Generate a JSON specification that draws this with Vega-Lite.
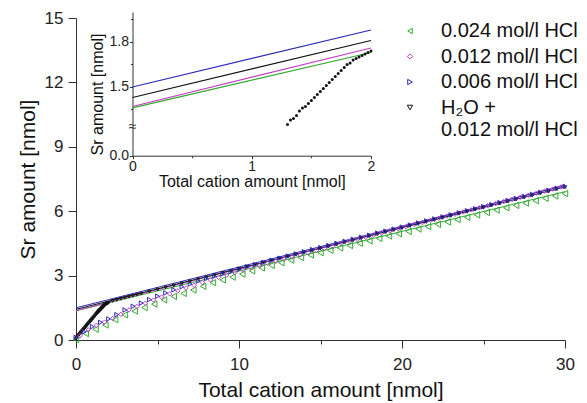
{
  "$schema": "https://vega.github.io/schema/vega-lite/v6.json",
  "width": 489,
  "height": 322,
  "autosize": {"type": "none"},
  "padding": {"left": 76, "top": 18, "right": 22, "bottom": 63},
  "background": "white",
  "config": {
    "view": {"stroke": null},
    "font": "Liberation Sans",
    "axis": {"grid": false, "labelFlush": false, "domainColor": "#333", "tickColor": "#333", "labelColor": "#222", "titleColor": "#111", "titleFontWeight": "normal", "labelFont": "Liberation Sans", "titleFont": "Liberation Sans"},
    "legend": {"labelFont": "Liberation Sans"}
  },
  "datasets": {
    "pts": [
      {"s":"H2O","x":0.00,"y":0.05},{"s":"H2O","x":0.05,"y":0.10},{"s":"H2O","x":0.10,"y":0.16},{"s":"H2O","x":0.15,"y":0.21},{"s":"H2O","x":0.20,"y":0.26},{"s":"H2O","x":0.25,"y":0.30},{"s":"H2O","x":0.30,"y":0.35},{"s":"H2O","x":0.35,"y":0.39},{"s":"H2O","x":0.40,"y":0.44},{"s":"H2O","x":0.45,"y":0.48},{"s":"H2O","x":0.50,"y":0.53},{"s":"H2O","x":0.55,"y":0.57},{"s":"H2O","x":0.60,"y":0.62},{"s":"H2O","x":0.65,"y":0.66},{"s":"H2O","x":0.70,"y":0.71},{"s":"H2O","x":0.75,"y":0.76},{"s":"H2O","x":0.80,"y":0.80},{"s":"H2O","x":0.85,"y":0.84},{"s":"H2O","x":0.90,"y":0.89},{"s":"H2O","x":0.95,"y":0.93},{"s":"H2O","x":1.00,"y":0.98},{"s":"H2O","x":1.05,"y":1.02},{"s":"H2O","x":1.10,"y":1.07},{"s":"H2O","x":1.15,"y":1.11},{"s":"H2O","x":1.20,"y":1.16},{"s":"H2O","x":1.25,"y":1.21},{"s":"H2O","x":1.30,"y":1.25},{"s":"H2O","x":1.325,"y":1.28},{"s":"H2O","x":1.35,"y":1.29},{"s":"H2O","x":1.375,"y":1.31},{"s":"H2O","x":1.40,"y":1.34},{"s":"H2O","x":1.425,"y":1.36},{"s":"H2O","x":1.45,"y":1.37},{"s":"H2O","x":1.475,"y":1.39},{"s":"H2O","x":1.50,"y":1.41},{"s":"H2O","x":1.525,"y":1.43},{"s":"H2O","x":1.55,"y":1.45},{"s":"H2O","x":1.575,"y":1.47},{"s":"H2O","x":1.60,"y":1.49},{"s":"H2O","x":1.625,"y":1.51},{"s":"H2O","x":1.65,"y":1.53},{"s":"H2O","x":1.675,"y":1.55},{"s":"H2O","x":1.70,"y":1.57},{"s":"H2O","x":1.725,"y":1.59},{"s":"H2O","x":1.75,"y":1.61},{"s":"H2O","x":1.775,"y":1.63},{"s":"H2O","x":1.80,"y":1.65},{"s":"H2O","x":1.825,"y":1.66},{"s":"H2O","x":1.85,"y":1.68},{"s":"H2O","x":1.875,"y":1.69},{"s":"H2O","x":1.90,"y":1.70},{"s":"H2O","x":1.925,"y":1.71},{"s":"H2O","x":1.95,"y":1.72},{"s":"H2O","x":1.975,"y":1.73},{"s":"H2O","x":2.00,"y":1.74},
      {"s":"H2O","x":2.25,"y":1.82},{"s":"H2O","x":2.5,"y":1.87},{"s":"H2O","x":2.75,"y":1.92},{"s":"H2O","x":3.0,"y":1.97},{"s":"H2O","x":3.25,"y":2.02},{"s":"H2O","x":3.5,"y":2.06},{"s":"H2O","x":3.75,"y":2.11},{"s":"H2O","x":4.0,"y":2.16},{"s":"H2O","x":4.5,"y":2.26},{"s":"H2O","x":5.0,"y":2.35},{"s":"H2O","x":5.5,"y":2.45},{"s":"H2O","x":6.0,"y":2.54},{"s":"H2O","x":6.5,"y":2.64},{"s":"H2O","x":7.0,"y":2.73},{"s":"H2O","x":7.5,"y":2.83},{"s":"H2O","x":8.0,"y":2.92},{"s":"H2O","x":8.5,"y":3.02},{"s":"H2O","x":9.0,"y":3.12},{"s":"H2O","x":9.5,"y":3.21},{"s":"H2O","x":10.0,"y":3.31},{"s":"H2O","x":10.5,"y":3.41},{"s":"H2O","x":11.0,"y":3.50},{"s":"H2O","x":11.5,"y":3.60},{"s":"H2O","x":12.0,"y":3.69},{"s":"H2O","x":12.5,"y":3.79},{"s":"H2O","x":13.0,"y":3.88},{"s":"H2O","x":13.5,"y":3.98},{"s":"H2O","x":14.0,"y":4.07},{"s":"H2O","x":14.5,"y":4.17},{"s":"H2O","x":15.0,"y":4.26},{"s":"H2O","x":15.5,"y":4.36},{"s":"H2O","x":16.0,"y":4.45},{"s":"H2O","x":16.5,"y":4.55},{"s":"H2O","x":17.0,"y":4.64},{"s":"H2O","x":17.5,"y":4.74},{"s":"H2O","x":18.0,"y":4.83},{"s":"H2O","x":18.5,"y":4.93},{"s":"H2O","x":19.0,"y":5.02},{"s":"H2O","x":19.5,"y":5.12},{"s":"H2O","x":20.0,"y":5.21},{"s":"H2O","x":20.5,"y":5.31},{"s":"H2O","x":21.0,"y":5.40},{"s":"H2O","x":21.5,"y":5.50},{"s":"H2O","x":22.0,"y":5.59},{"s":"H2O","x":22.5,"y":5.69},{"s":"H2O","x":23.0,"y":5.78},{"s":"H2O","x":23.5,"y":5.88},{"s":"H2O","x":24.0,"y":5.97},{"s":"H2O","x":24.5,"y":6.07},{"s":"H2O","x":25.0,"y":6.16},{"s":"H2O","x":25.5,"y":6.26},{"s":"H2O","x":26.0,"y":6.35},{"s":"H2O","x":26.5,"y":6.45},{"s":"H2O","x":27.0,"y":6.54},{"s":"H2O","x":27.5,"y":6.64},{"s":"H2O","x":28.0,"y":6.73},{"s":"H2O","x":28.5,"y":6.83},{"s":"H2O","x":29.0,"y":6.92},{"s":"H2O","x":29.5,"y":7.02},{"s":"H2O","x":30.0,"y":7.11},
      {"s":"0.024","x":0,"y":0.02},{"s":"0.024","x":0.6,"y":0.30},{"s":"0.024","x":1.2,"y":0.50},{"s":"0.024","x":1.8,"y":0.70},{"s":"0.024","x":2.4,"y":0.95},{"s":"0.024","x":3.0,"y":1.17},{"s":"0.024","x":3.6,"y":1.35},{"s":"0.024","x":4.2,"y":1.51},{"s":"0.024","x":4.8,"y":1.67},{"s":"0.024","x":5.4,"y":1.87},{"s":"0.024","x":6.0,"y":2.03},{"s":"0.024","x":6.6,"y":2.17},{"s":"0.024","x":7.2,"y":2.33},{"s":"0.024","x":7.8,"y":2.50},{"s":"0.024","x":8.4,"y":2.67},{"s":"0.024","x":9.0,"y":2.80},{"s":"0.024","x":9.6,"y":2.93},{"s":"0.024","x":10.2,"y":3.07},{"s":"0.024","x":10.8,"y":3.22},{"s":"0.024","x":11.4,"y":3.36},{"s":"0.024","x":12.0,"y":3.48},{"s":"0.024","x":12.6,"y":3.60},{"s":"0.024","x":13.2,"y":3.72},{"s":"0.024","x":13.8,"y":3.84},{"s":"0.024","x":14.4,"y":3.96},{"s":"0.024","x":15.0,"y":4.07},{"s":"0.024","x":15.6,"y":4.18},{"s":"0.024","x":16.2,"y":4.29},{"s":"0.024","x":16.8,"y":4.40},{"s":"0.024","x":17.4,"y":4.51},{"s":"0.024","x":18.0,"y":4.62},{"s":"0.024","x":18.6,"y":4.73},{"s":"0.024","x":19.2,"y":4.84},{"s":"0.024","x":19.8,"y":4.95},{"s":"0.024","x":20.4,"y":5.06},{"s":"0.024","x":21.0,"y":5.17},{"s":"0.024","x":21.6,"y":5.28},{"s":"0.024","x":22.2,"y":5.39},{"s":"0.024","x":22.8,"y":5.50},{"s":"0.024","x":23.4,"y":5.61},{"s":"0.024","x":24.0,"y":5.72},{"s":"0.024","x":24.6,"y":5.83},{"s":"0.024","x":25.2,"y":5.94},{"s":"0.024","x":25.8,"y":6.05},{"s":"0.024","x":26.4,"y":6.16},{"s":"0.024","x":27.0,"y":6.27},{"s":"0.024","x":27.6,"y":6.38},{"s":"0.024","x":28.2,"y":6.49},{"s":"0.024","x":28.8,"y":6.60},{"s":"0.024","x":29.4,"y":6.71},{"s":"0.024","x":30.0,"y":6.82},
      {"s":"0.012","x":0.25,"y":0.20},{"s":"0.012","x":0.75,"y":0.47},{"s":"0.012","x":1.25,"y":0.68},{"s":"0.012","x":1.75,"y":0.83},{"s":"0.012","x":2.25,"y":1.00},{"s":"0.012","x":2.75,"y":1.20},{"s":"0.012","x":3.25,"y":1.40},{"s":"0.012","x":3.75,"y":1.56},{"s":"0.012","x":4.25,"y":1.71},{"s":"0.012","x":4.75,"y":1.86},{"s":"0.012","x":5.25,"y":2.00},{"s":"0.012","x":5.75,"y":2.15},{"s":"0.012","x":6.25,"y":2.29},{"s":"0.012","x":6.75,"y":2.42},{"s":"0.012","x":7.25,"y":2.55},{"s":"0.012","x":7.75,"y":2.68},{"s":"0.012","x":8.25,"y":2.80},{"s":"0.012","x":8.75,"y":2.92},{"s":"0.012","x":9.25,"y":3.03},{"s":"0.012","x":9.75,"y":3.14},{"s":"0.012","x":10.25,"y":3.25},{"s":"0.012","x":10.75,"y":3.36},{"s":"0.012","x":11.25,"y":3.46},{"s":"0.012","x":11.75,"y":3.57},{"s":"0.012","x":12.25,"y":3.67},{"s":"0.012","x":12.75,"y":3.77},{"s":"0.012","x":13.25,"y":3.87},{"s":"0.012","x":13.75,"y":3.97},{"s":"0.012","x":14.25,"y":4.07},{"s":"0.012","x":14.75,"y":4.17},{"s":"0.012","x":15.25,"y":4.27},{"s":"0.012","x":15.75,"y":4.37},{"s":"0.012","x":16.25,"y":4.50},{"s":"0.012","x":16.75,"y":4.60},{"s":"0.012","x":17.25,"y":4.69},{"s":"0.012","x":17.75,"y":4.79},{"s":"0.012","x":18.25,"y":4.89},{"s":"0.012","x":18.75,"y":4.99},{"s":"0.012","x":19.25,"y":5.08},{"s":"0.012","x":19.75,"y":5.18},{"s":"0.012","x":20.25,"y":5.28},{"s":"0.012","x":20.75,"y":5.38},{"s":"0.012","x":21.25,"y":5.47},{"s":"0.012","x":21.75,"y":5.57},{"s":"0.012","x":22.25,"y":5.67},{"s":"0.012","x":22.75,"y":5.77},{"s":"0.012","x":23.25,"y":5.86},{"s":"0.012","x":23.75,"y":5.96},{"s":"0.012","x":24.25,"y":6.06},{"s":"0.012","x":24.75,"y":6.16},{"s":"0.012","x":25.25,"y":6.25},{"s":"0.012","x":25.75,"y":6.35},{"s":"0.012","x":26.25,"y":6.45},{"s":"0.012","x":26.75,"y":6.55},{"s":"0.012","x":27.25,"y":6.64},{"s":"0.012","x":27.75,"y":6.74},{"s":"0.012","x":28.25,"y":6.84},{"s":"0.012","x":28.75,"y":6.94},{"s":"0.012","x":29.25,"y":7.03},{"s":"0.012","x":29.75,"y":7.13},
      {"s":"0.006","x":0,"y":0.12},{"s":"0.006","x":0.5,"y":0.38},{"s":"0.006","x":1.0,"y":0.62},{"s":"0.006","x":1.5,"y":0.82},{"s":"0.006","x":2.0,"y":0.98},{"s":"0.006","x":2.5,"y":1.18},{"s":"0.006","x":3.0,"y":1.40},{"s":"0.006","x":3.5,"y":1.57},{"s":"0.006","x":4.0,"y":1.72},{"s":"0.006","x":4.5,"y":1.88},{"s":"0.006","x":5.0,"y":2.04},{"s":"0.006","x":5.5,"y":2.19},{"s":"0.006","x":6.0,"y":2.34},{"s":"0.006","x":6.5,"y":2.48},{"s":"0.006","x":7.0,"y":2.61},{"s":"0.006","x":7.5,"y":2.74},{"s":"0.006","x":8.0,"y":2.86},{"s":"0.006","x":8.5,"y":2.97},{"s":"0.006","x":9.0,"y":3.08},{"s":"0.006","x":9.5,"y":3.19},{"s":"0.006","x":10.0,"y":3.30},{"s":"0.006","x":10.5,"y":3.41},{"s":"0.006","x":11.0,"y":3.51},{"s":"0.006","x":11.5,"y":3.61},{"s":"0.006","x":12.0,"y":3.71},{"s":"0.006","x":12.5,"y":3.81},{"s":"0.006","x":13.0,"y":3.91},{"s":"0.006","x":13.5,"y":4.01},{"s":"0.006","x":14.0,"y":4.11},{"s":"0.006","x":14.5,"y":4.21},{"s":"0.006","x":15.0,"y":4.30},{"s":"0.006","x":15.5,"y":4.40},{"s":"0.006","x":16.0,"y":4.50},{"s":"0.006","x":16.5,"y":4.595},{"s":"0.006","x":17.0,"y":4.69},{"s":"0.006","x":17.5,"y":4.785},{"s":"0.006","x":18.0,"y":4.88},{"s":"0.006","x":18.5,"y":4.975},{"s":"0.006","x":19.0,"y":5.07},{"s":"0.006","x":19.5,"y":5.165},{"s":"0.006","x":20.0,"y":5.26},{"s":"0.006","x":20.5,"y":5.355},{"s":"0.006","x":21.0,"y":5.45},{"s":"0.006","x":21.5,"y":5.545},{"s":"0.006","x":22.0,"y":5.64},{"s":"0.006","x":22.5,"y":5.735},{"s":"0.006","x":23.0,"y":5.83},{"s":"0.006","x":23.5,"y":5.925},{"s":"0.006","x":24.0,"y":6.02},{"s":"0.006","x":24.5,"y":6.115},{"s":"0.006","x":25.0,"y":6.21},{"s":"0.006","x":25.5,"y":6.305},{"s":"0.006","x":26.0,"y":6.40},{"s":"0.006","x":26.5,"y":6.495},{"s":"0.006","x":27.0,"y":6.59},{"s":"0.006","x":27.5,"y":6.685},{"s":"0.006","x":28.0,"y":6.78},{"s":"0.006","x":28.5,"y":6.875},{"s":"0.006","x":29.0,"y":6.97},{"s":"0.006","x":29.5,"y":7.065},{"s":"0.006","x":30.0,"y":7.16}
    ],
    "fits": [
      {"f":"0.024","x":0,"y":1.36},{"f":"0.024","x":2,"y":1.73},{"f":"0.024","x":30,"y":6.91},
      {"f":"0.012","x":0,"y":1.37},{"f":"0.012","x":2,"y":1.76},{"f":"0.012","x":30,"y":7.22},
      {"f":"0.006","x":0,"y":1.50},{"f":"0.006","x":2,"y":1.88},{"f":"0.006","x":30,"y":7.20},
      {"f":"H2O","x":0,"y":1.43},{"f":"H2O","x":2,"y":1.81},{"f":"H2O","x":30,"y":7.13}
    ],
    "brk": [{"x":0,"y":1.233,"t":"≈"}]
  },
  "layer": [
    {
      "layer": [
        {
          "data": {"name": "fits"},
          "mark": {"type": "line", "strokeWidth": 1},
          "encoding": {
            "x": {"field": "x", "type": "quantitative"},
            "y": {"field": "y", "type": "quantitative"},
            "stroke": {"field": "f", "type": "nominal", "legend": null,
              "scale": {"domain": ["H2O", "0.006", "0.012", "0.024"], "range": ["#111111", "#2a2ab8", "#c23cc2", "#33aa33"]}}
          }
        },
        {
          "data": {"name": "pts"},
          "transform": [{"filter": "datum.s == 'H2O'"}],
          "mark": {"type": "point", "filled": false, "strokeWidth": 1, "opacity": 1, "size": 10},
          "encoding": {
            "x": {"field": "x", "type": "quantitative",
              "scale": {"domain": [0, 30], "nice": false, "zero": false},
              "axis": {"orient": "bottom", "values": [0, 5, 10, 15, 20, 25, 30],
                "labelExpr": "datum.value % 10 == 0 ? datum.label : ''",
                "tickSize": {"condition": {"test": "datum.value % 10 == 0", "value": 8}, "value": 4},
                "labelFontSize": 17, "labelPadding": 8,
                "title": "Total cation amount [nmol]", "titleFontSize": 21, "titlePadding": 7}},
            "y": {"field": "y", "type": "quantitative",
              "scale": {"domain": [0, 15], "nice": false},
              "axis": {"orient": "left", "values": [0, 1.5, 3, 4.5, 6, 7.5, 9, 10.5, 12, 13.5, 15],
                "labelExpr": "datum.value % 3 == 0 ? datum.label : ''",
                "tickSize": {"condition": {"test": "datum.value % 3 == 0", "value": 8}, "value": 4},
                "labelFontSize": 17, "labelPadding": 5,
                "title": "Sr amount [nmol]", "titleFontSize": 21, "titlePadding": 6}},
            "color": {"field": "s", "type": "nominal",
              "scale": {"domain": ["0.024", "0.012", "0.006", "H2O"], "range": ["#33aa33", "#c23cc2", "#2a2ab8", "#111111"]},
              "legend": {"title": null, "orient": "none", "legendX": 324, "legendY": 3, "padding": 0,
                "symbolSize": 28, "symbolStrokeWidth": 1, "labelFontSize": 20, "labelColor": "#111",
                "labelOffset": 21, "rowPadding": 5.5, "labelLimit": 300,
                "labelExpr": "datum.value == 'H2O' ? ['H₂O +', '0.012 mol/l HCl'] : datum.value + ' mol/l HCl'",
                "encode": {"labels": {"lineHeight": {"value": 35}, "dy": {"signal": "datum.value == 'H2O' ? 17.5 : 0"}}}}},
            "shape": {"field": "s", "type": "nominal",
              "scale": {"domain": ["0.024", "0.012", "0.006", "H2O"], "range": ["triangle-left", "diamond", "triangle-right", "triangle-down"]}}
          }
        },
        {
          "data": {"name": "pts"},
          "transform": [{"filter": "datum.s == '0.024'"}],
          "mark": {"type": "point", "filled": false, "strokeWidth": 1, "opacity": 1, "size": 40},
          "encoding": {
            "x": {"field": "x", "type": "quantitative"},
            "y": {"field": "y", "type": "quantitative"},
            "color": {"field": "s", "type": "nominal"},
            "shape": {"field": "s", "type": "nominal"}
          }
        },
        {
          "data": {"name": "pts"},
          "transform": [{"filter": "datum.s == '0.012' || datum.s == '0.006'"}],
          "mark": {"type": "point", "filled": false, "strokeWidth": 1, "opacity": 1, "size": 20},
          "encoding": {
            "x": {"field": "x", "type": "quantitative"},
            "y": {"field": "y", "type": "quantitative"},
            "color": {"field": "s", "type": "nominal"},
            "shape": {"field": "s", "type": "nominal"}
          }
        }
      ]
    },
    {
      "layer": [
        {
          "data": {"name": "fits"},
          "transform": [{"filter": "datum.x <= 2"}],
          "mark": {"type": "line", "strokeWidth": 1.2},
          "encoding": {
            "x": {"field": "x", "type": "quantitative",
              "scale": {"domain": [0, 2], "range": [56.5, 295], "nice": false, "zero": false},
              "axis": {"orient": "bottom", "offset": -184.3, "values": [0, 0.5, 1, 1.5, 2], "format": ".0f",
                "labelExpr": "datum.value % 1 == 0 ? datum.label : ''",
                "tickSize": {"condition": {"test": "datum.value % 1 == 0", "value": 3}, "value": 2},
                "labelFontSize": 14, "labelPadding": 1,
                "title": "Total cation amount [nmol]", "titleFontSize": 16, "titlePadding": 0}},
            "y": {"field": "y", "type": "quantitative",
              "scale": {"domain": [0, 1.233, 2.0], "range": [137.7, 109, -6], "nice": false, "zero": false},
              "axis": {"orient": "left", "offset": -56.5, "values": [0, 1.35, 1.5, 1.65, 1.8, 1.95], "format": ".1f",
                "labelExpr": "(datum.value == 0 || datum.value == 1.5 || datum.value == 1.8) ? datum.label : ''",
                "tickSize": {"condition": {"test": "datum.value == 0 || datum.value == 1.5 || datum.value == 1.8", "value": 3}, "value": 2},
                "labelFontSize": 14, "labelPadding": 1,
                "title": "Sr amount [nmol]", "titleFontSize": 16, "titlePadding": 4, "titleY": 76}},
            "stroke": {"field": "f", "type": "nominal", "legend": null}
          }
        },
        {
          "data": {"name": "pts"},
          "transform": [{"filter": "datum.s == 'H2O' && datum.x >= 1.3 && datum.x <= 2"}],
          "mark": {"type": "point", "shape": "circle", "filled": true, "size": 9, "color": "#111", "opacity": 1},
          "encoding": {
            "x": {"field": "x", "type": "quantitative"},
            "y": {"field": "y", "type": "quantitative"}
          }
        },
        {
          "data": {"name": "brk"},
          "mark": {"type": "text", "fontSize": 14, "color": "#333", "baseline": "middle", "align": "center"},
          "encoding": {
            "x": {"field": "x", "type": "quantitative"},
            "y": {"field": "y", "type": "quantitative"},
            "text": {"field": "t"}
          }
        }
      ]
    }
  ],
  "resolve": {"scale": {"x": "independent", "y": "independent"}, "axis": {"x": "independent", "y": "independent"}}
}
